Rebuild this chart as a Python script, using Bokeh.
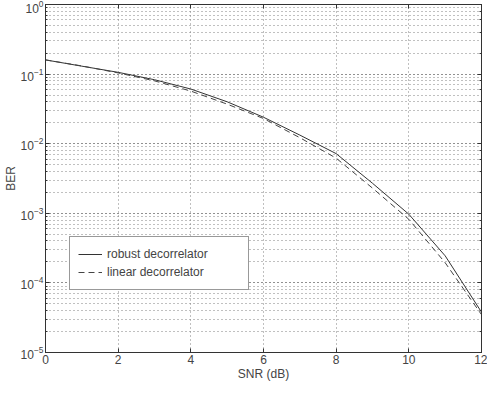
from bokeh.plotting import figure
from bokeh.models import LogAxis, LinearAxis, Legend, LegendItem, FixedTicker
from bokeh.embed import file_html
from bokeh.resources import INLINE

snr = [0, 1, 2, 3, 4, 5, 6, 7, 8, 9, 10, 11, 12]
ber_robust = [0.16, 0.13, 0.106, 0.083, 0.061, 0.040, 0.024, 0.0133, 0.0072, 0.0027, 0.00097, 0.000245, 0.000038]
ber_linear = [0.16, 0.131, 0.104, 0.080, 0.057, 0.037, 0.023, 0.0122, 0.0062, 0.0023, 0.00082, 0.000195, 0.000035]
x_ticks = [0, 2, 4, 6, 8, 10, 12]

FONT = "Liberation Sans"

p = figure(frame_width=436, frame_height=348, x_range=(0, 12), y_range=(1e-5, 1),
           y_axis_type="log", output_backend="svg", toolbar_location=None,
           min_border_left=0, min_border_right=6, min_border_top=4, min_border_bottom=0)

p.outline_line_color = "#333333"
p.background_fill_color = "white"

# grids
p.xgrid.ticker = FixedTicker(ticks=x_ticks)
for g in (p.xgrid, p.ygrid):
    g.grid_line_color = "#808080"
    g.grid_line_dash = "1 3"
    g.grid_line_width = 1
p.ygrid.minor_grid_line_color = "#808080"
p.ygrid.minor_grid_line_dash = "1 3"

# axes
p.xaxis.ticker = FixedTicker(ticks=x_ticks)
p.xaxis.axis_label = "SNR (dB)"
p.yaxis.axis_label = "BER"
for ax in (p.xaxis, p.yaxis):
    ax.axis_label_text_font = FONT
    ax.axis_label_text_font_size = "12px"
    ax.axis_label_text_font_style = "normal"
    ax.major_label_text_font = FONT
    ax.major_label_text_font_size = "12px"
    ax.major_tick_in = 4
    ax.major_tick_out = 0
    ax.minor_tick_in = 2
    ax.minor_tick_out = 0
    ax.axis_line_color = "#333333"
    ax.major_tick_line_color = "#333333"
    ax.minor_tick_line_color = "#333333"
    ax.major_label_standoff = 2
p.xaxis.minor_tick_line_color = None
p.xaxis.axis_label_standoff = 0
p.yaxis.axis_label_standoff = 0

# top / right tick-only axes (labels invisible)
top = LinearAxis(ticker=FixedTicker(ticks=x_ticks), major_label_text_font_size="1px",
                 major_label_text_alpha=0, major_tick_in=4, major_tick_out=0,
                 minor_tick_line_color=None, major_label_standoff=0,
                 axis_line_color="#333333", major_tick_line_color="#333333")
right = LogAxis(major_label_text_font_size="1px", major_label_text_alpha=0,
                major_tick_in=4, major_tick_out=0, minor_tick_in=2, minor_tick_out=0,
                major_label_standoff=0, axis_line_color="#333333",
                major_tick_line_color="#333333", minor_tick_line_color="#333333")
p.add_layout(top, "above")
p.add_layout(right, "right")

r1 = p.line(snr, ber_robust, line_color="#333333", line_width=1)
r2 = p.line(snr, ber_linear, line_color="#444444", line_width=1, line_dash="6 4")

legend = Legend(items=[LegendItem(label="robust decorrelator", renderers=[r1]),
                       LegendItem(label="linear decorrelator", renderers=[r2])],
                location=(24, 62), label_text_font=FONT, label_text_font_size="12px",
                border_line_color="#333333", background_fill_alpha=1,
                glyph_width=24, glyph_height=18, spacing=0, padding=8, margin=0,
                label_standoff=5, label_height=18, label_width=133)
p.add_layout(legend, "center")

open("out.html", "w").write(file_html(p, INLINE))
